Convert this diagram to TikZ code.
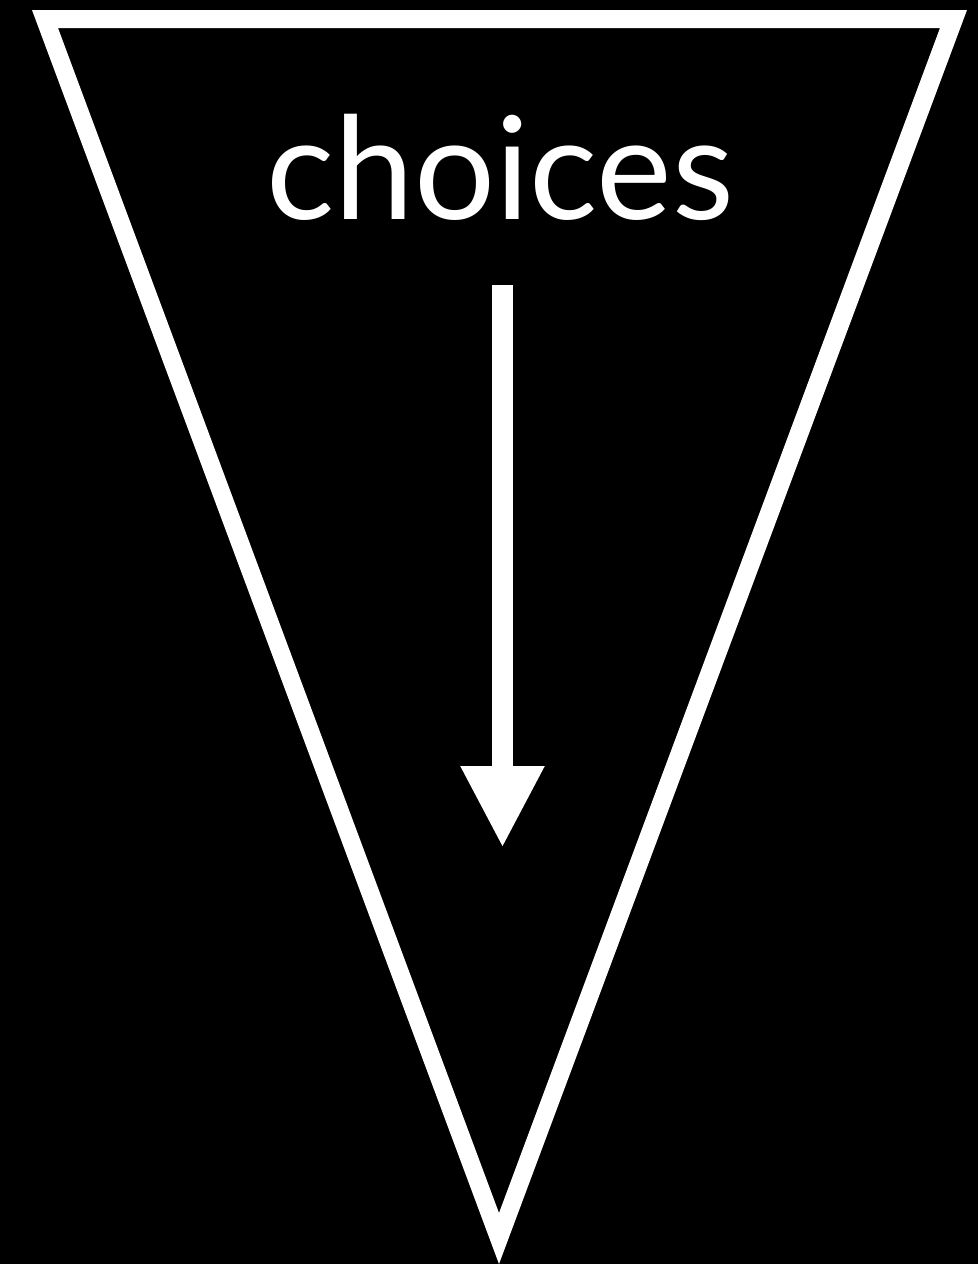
\documentclass[tikz,border=0pt]{standalone}
\usepackage{fontspec}
\setmainfont{Lato}
\usetikzlibrary{arrows.meta}
\begin{document}
\begin{tikzpicture}[x=1pt,y=-1pt,
  frame/.style={fill=white,even odd rule},
  label/.style={text=white,inner sep=0pt,anchor=base,font=\fontsize{143}{150}\selectfont},
  flow/.style={draw=white,line width=21pt,-{Triangle[width=78pt,length=82pt]}}]
\fill[black] (0,0) rectangle (978,1264);
\useasboundingbox (0,0) rectangle (978,1264);
\fill[frame] (32,10) -- (967,10) -- (499,1264) -- cycle
             (58,28) -- (940,28) -- (499,1213) -- cycle;
\node[label] (t) at (500,219) {choices};
\coordinate (a) at (502.5,285);
\coordinate (b) at (502.5,848);
\draw[flow] (a) -- (b);
\end{tikzpicture}
\end{document}
